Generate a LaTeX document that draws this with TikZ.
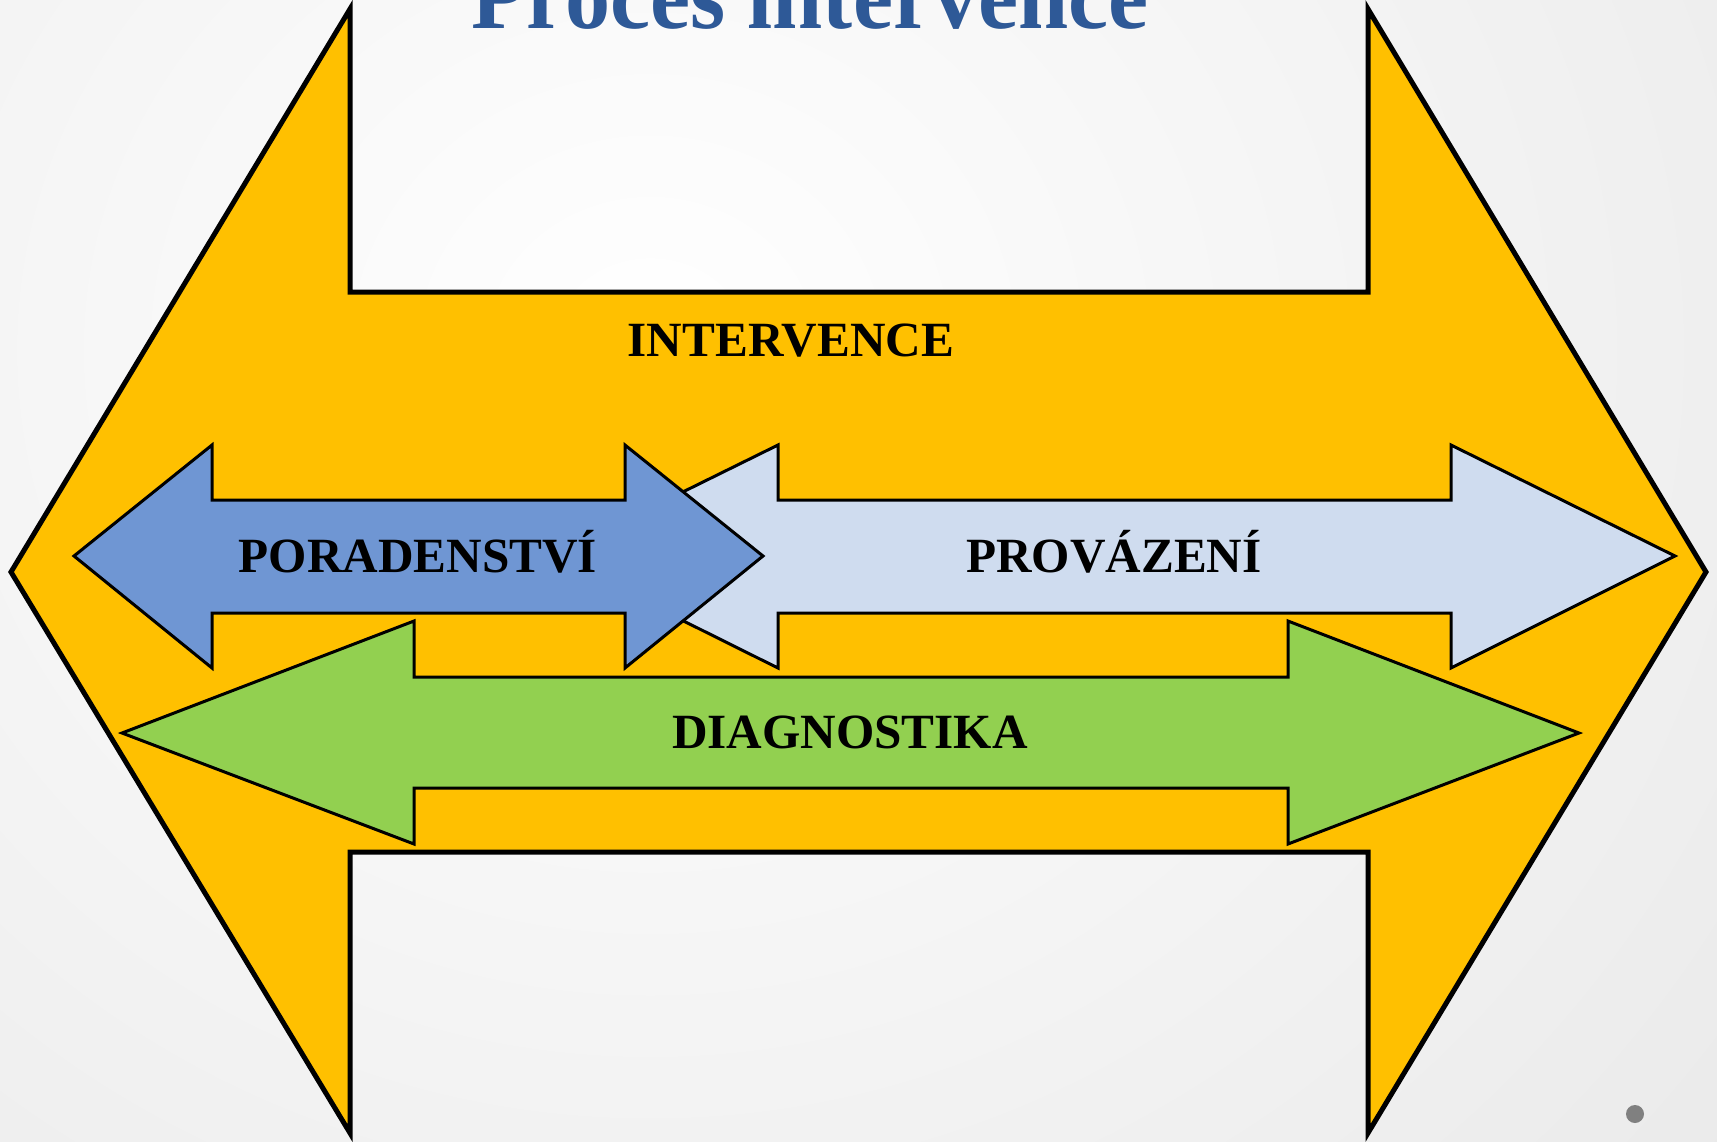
\documentclass[tikz,border=0pt]{standalone}
\usepackage{fontspec}
\setmainfont{Liberation Serif}
\usetikzlibrary{positioning}
\definecolor{procyellow}{RGB}{255,192,0}
\definecolor{poradblue}{RGB}{111,150,211}
\definecolor{provlight}{RGB}{207,220,239}
\definecolor{diaggreen}{RGB}{146,208,80}
\definecolor{titleblue}{RGB}{46,89,151}
\tikzset{
  bigshape/.style={draw=black,line width=0.05cm,fill=procyellow,line join=miter},
  arrowshape/.style={draw=black,line width=0.03cm,line join=miter},
  lbl/.style={font=\fontsize{14}{16}\selectfont\bfseries,text=black,inner sep=0pt,anchor=base}
}
\begin{document}
\begin{tikzpicture}[x=0.01cm,y=-0.01cm]
		\useasboundingbox (0,0) rectangle (1717,1141);
		\clip (0,0) rectangle (1717,1141);
		\shade[inner color=white,outer color=black!15] (-1900,-2000) rectangle (3200,2700);
		% velka sipka
		\draw[bigshape] (11,572)--(350,9)--(350,292)--(1368,292)--(1368,9)--(1706,572)--(1368,1133)--(1368,852)--(350,852)--(350,1133)--cycle;
		\node[lbl] (interv) at (791,356) {INTERVENCE};
		\node[font=\fontsize{27}{30}\selectfont\bfseries,text=titleblue,anchor=base,xscale=0.95] (title) at (810,28) {Proces intervence};
		% provazeni
		\draw[arrowshape,fill=provlight] (553,556)--(778,445)--(778,500)--(1451,500)--(1451,445)--(1675,556)--(1451,668)--(1451,613)--(778,613)--(778,668)--cycle;
		\node[lbl] (prov) at (1114,572) {PROVÁZENÍ};
		% poradenstvi
		\draw[arrowshape,fill=poradblue] (74,556)--(212,445)--(212,500)--(625,500)--(625,445)--(763,556)--(625,668)--(625,613)--(212,613)--(212,668)--cycle;
		\node[lbl] (porad) at (418,572) {PORADENSTVÍ};
		% diagnostika
		\draw[arrowshape,fill=diaggreen] (122,733)--(414,621)--(414,677)--(1288,677)--(1288,621)--(1579,733)--(1288,844)--(1288,788)--(414,788)--(414,844)--cycle;
		\node[lbl] (diag) at (850,748) {DIAGNOSTIKA};
		\fill[black!50] (1635,1114) circle (9);
\end{tikzpicture}
\end{document}
